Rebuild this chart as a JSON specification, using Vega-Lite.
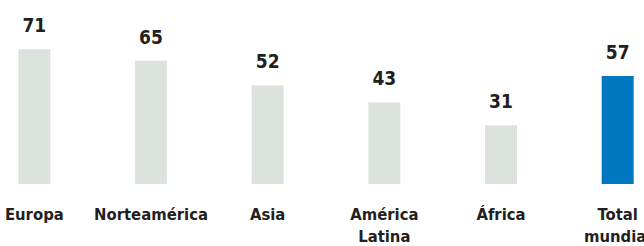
{
  "$schema": "https://vega.github.io/schema/vega-lite/v6.json",
  "width": 644,
  "height": 184,
  "autosize": "none",
  "padding": {"left": 0, "top": 0, "right": 0, "bottom": 62},
  "background": "white",
  "config": {"view": {"stroke": null}, "font": "DejaVu Sans Condensed"},
  "data": {
    "values": [
      {"region": "Europa", "value": 71, "total": "no"},
      {"region": "Norteamérica", "value": 65, "total": "no"},
      {"region": "Asia", "value": 52, "total": "no"},
      {"region": "América|Latina", "value": 43, "total": "no"},
      {"region": "África", "value": 31, "total": "no"},
      {"region": "Total|mundial", "value": 57, "total": "yes"}
    ]
  },
  "encoding": {
    "x": {
      "field": "region",
      "type": "nominal",
      "sort": null,
      "scale": {"range": [-24, 676], "paddingInner": 0, "paddingOuter": 0},
      "axis": {
        "title": null,
        "domain": false,
        "ticks": false,
        "labelAngle": 0,
        "labelFont": "DejaVu Sans Condensed",
        "labelFontWeight": "bold",
        "labelFontSize": 16.5,
        "labelColor": "#231f20",
        "labelPadding": 22,
        "labelBaseline": "top",
        "labelLineHeight": 22,
        "labelExpr": "split(datum.value, '|')"
      }
    },
    "y": {
      "field": "value",
      "type": "quantitative",
      "scale": {"domain": [0, 97]},
      "axis": null
    }
  },
  "layer": [
    {
      "mark": {"type": "bar", "width": 32},
      "encoding": {
        "color": {
          "field": "total",
          "type": "nominal",
          "scale": {"domain": ["no", "yes"], "range": ["#dce3dc", "#0077c0"]},
          "legend": null
        }
      }
    },
    {
      "mark": {
        "type": "text",
        "baseline": "alphabetic",
        "dy": -17,
        "font": "DejaVu Sans Condensed",
        "fontWeight": "bold",
        "fontSize": 19,
        "color": "#231f20"
      },
      "encoding": {"text": {"field": "value", "type": "quantitative"}}
    }
  ]
}
